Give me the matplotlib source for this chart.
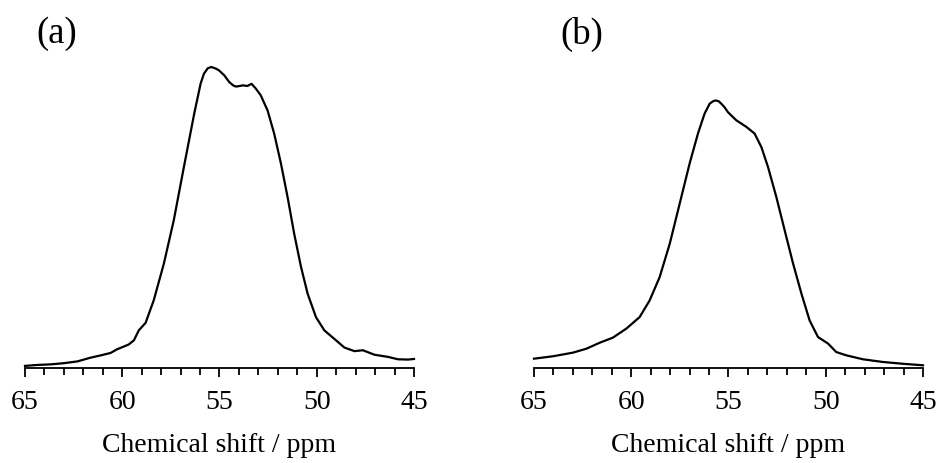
import matplotlib
matplotlib.use("Agg")
import matplotlib.pyplot as plt
from matplotlib.ticker import MultipleLocator

plt.rcParams['font.family'] = ['Liberation Serif', 'DejaVu Serif']

# spectrum (a): chemical shift (ppm) and intensity (peak = 100)
shift_a = [65.0, 64.4, 63.7, 63.0, 62.3, 61.65, 61.1, 60.6, 60.27, 59.67, 59.4,
           59.15, 58.8, 58.38, 57.86, 57.35, 56.83, 56.3, 55.97, 55.8, 55.6,
           55.42, 55.2, 55.03, 54.75, 54.5, 54.3, 54.16, 53.95, 53.8, 53.56,
           53.45, 53.35, 53.13, 52.88, 52.53, 52.19,
           51.84, 51.5, 51.16, 50.81, 50.47, 50.04, 49.61, 49.1, 48.58, 48.06,
           47.63, 47.03, 46.34, 45.83, 45.31, 45.0]
inten_a = [0.7, 1.0, 1.2, 1.6, 2.2, 3.4, 4.2, 5.0, 6.2, 7.8, 9.2,
           12.5, 15.0, 22.5, 34.7, 49.1, 66.8, 84.5, 94.5, 97.8, 99.6,
           100.0, 99.5, 98.9, 97.2, 95.0, 93.9, 93.5, 93.7, 93.9, 93.7,
           94.1, 94.4, 92.8, 90.6, 85.6, 77.9,
           67.9, 56.8, 44.6, 33.6, 24.7, 16.9, 12.5, 9.7, 6.8, 5.6,
           5.9, 4.4, 3.7, 2.9, 2.8, 3.0]

# spectrum (b)
shift_b = [65.0, 64.02, 63.0, 62.31, 61.62, 60.94, 60.25, 59.57, 59.05, 58.54,
           58.02, 57.51, 57.0, 56.57, 56.23, 55.97, 55.8, 55.66, 55.5, 55.37,
           55.2, 55.03, 54.6,
           54.08, 53.66, 53.31, 52.97, 52.54, 52.11, 51.68, 51.25, 50.83, 50.4,
           49.88, 49.46, 48.94, 48.09, 47.06, 46.03, 45.0]
inten_b = [3.1, 3.9, 5.1, 6.4, 8.4, 10.1, 13.1, 16.9, 22.5, 30.2,
           41.3, 54.6, 67.9, 77.9, 84.5, 87.8, 88.6, 88.9, 88.6, 87.8,
           86.6, 85.0, 82.3,
           80.1, 77.9, 73.4, 66.8, 56.8, 45.7, 34.7, 24.7, 15.8, 10.3,
           8.1, 5.3, 4.2, 2.9, 2.0, 1.4, 0.9]

panels = [("(a)", shift_a, inten_a), ("(b)", shift_b, inten_b)]

W, H = 940, 463
fig = plt.figure(figsize=(W / 100, H / 100), dpi=100)

ax_left = [25, 534]
ax_width = 389
ax_bottom = 368
ax_top = 50
label_x = [57, 582]

for i, (tag, xs, ys) in enumerate(panels):
    ax = fig.add_axes([ax_left[i] / W, (H - ax_bottom) / H,
                       ax_width / W, (ax_bottom - ax_top) / H])
    ax.plot(xs, ys, color='black', lw=1.6, clip_on=False,
            solid_joinstyle='round')
    ax.set_xlim(65, 45)
    ax.set_ylim(0, 100 * (ax_bottom - ax_top) / (ax_bottom - 67))
    for s in ['top', 'left', 'right']:
        ax.spines[s].set_visible(False)
    ax.spines['bottom'].set_linewidth(1.3)
    ax.set_yticks([])
    ax.xaxis.set_major_locator(MultipleLocator(5))
    ax.xaxis.set_minor_locator(MultipleLocator(1))
    ax.tick_params(axis='x', which='major', direction='out', length=6.5,
                   width=1.3, labelsize=20, pad=9)
    ax.tick_params(axis='x', which='minor', direction='out', length=5, width=1.3)
    ax.set_xlabel('Chemical shift / ppm', fontsize=20, labelpad=13)
    fig.text(label_x[i] / W, 1 - 34 / H, tag, fontsize=26.5, ha='center', va='center')

fig.savefig('out.png', dpi=100)
